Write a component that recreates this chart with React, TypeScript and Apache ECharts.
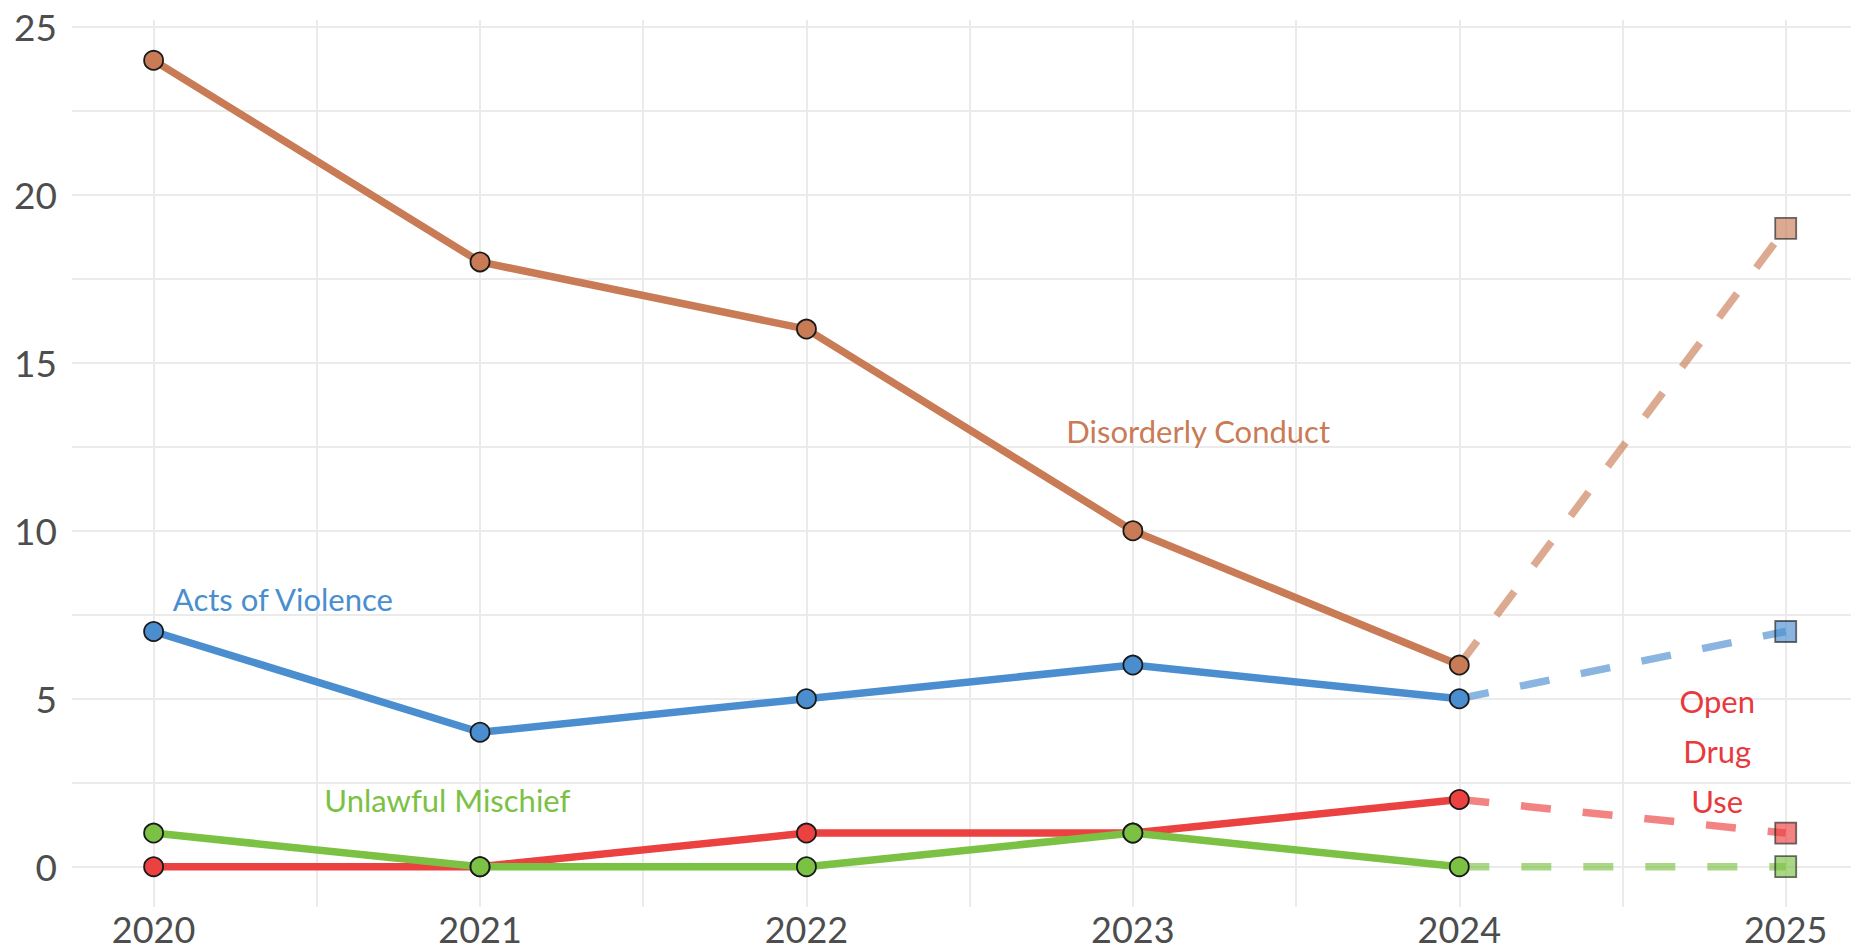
import React, { useEffect, useRef } from "react";
import * as echarts from "echarts";

const years = [2020, 2021, 2022, 2023, 2024];
const projYears = [2024, 2025];

const disorderly = [24, 18, 16, 10, 6];
const disorderlyProj = [6, 19];
const violence = [7, 4, 5, 6, 5];
const violenceProj = [5, 7];
const drugUse = [0, 0, 1, 1, 2];
const drugUseProj = [2, 1];
const mischief = [1, 0, 0, 1, 0];
const mischiefProj = [0, 0];

const xTickLabels = [2020, 2021, 2022, 2023, 2024, 2025];
const yTickLabels = [0, 5, 10, 15, 20, 25];
const xGridValues = [2020, 2020.5, 2021, 2021.5, 2022, 2022.5, 2023, 2023.5, 2024, 2024.5, 2025];
const yGridValues = [0, 2.5, 5, 7.5, 10, 12.5, 15, 17.5, 20, 22.5, 25];

const annotationTexts = ["Disorderly Conduct", "Acts of Violence", "Unlawful Mischief", "Open\nDrug\nUse"];
const annotationX = [2023.2, 2020.396, 2020.9, 2024.79];
const annotationY = [12.97, 7.96, 1.98, 3.44];

const categories = [
  { name: "Disorderly Conduct", color: "#C97B56", values: disorderly, proj: disorderlyProj },
  { name: "Acts of Violence", color: "#4A8ECF", values: violence, proj: violenceProj },
  { name: "Open Drug Use", color: "#EC4141", values: drugUse, proj: drugUseProj },
  { name: "Unlawful Mischief", color: "#7BC144", values: mischief, proj: mischiefProj },
];
const annotationColors = ["#C97B56", "#4A8ECF", "#7BC144", "#E8393D"];

const FONT = "Lato, 'Open Sans', sans-serif";

export default function App() {
  const ref = useRef<HTMLDivElement>(null);
  useEffect(() => {
    if (!ref.current) return;
    const chart = echarts.init(ref.current, undefined, { renderer: "svg" });
    const series: any[] = [];
    series.push({
      type: "line",
      data: [[2020, 0]],
      showSymbol: false,
      lineStyle: { opacity: 0 },
      z: 0,
      silent: true,
      markLine: {
        silent: true,
        z: 0,
        symbol: ["none", "none"],
        label: { show: false },
        lineStyle: { color: "#EBEBEB", width: 2, type: "solid" },
        data: [
          ...xGridValues.map((v) => ({ xAxis: v })),
          ...yGridValues.map((v) => ({ yAxis: v })),
        ],
      },
    });
    categories.forEach((c) => {
      series.push({
        type: "line",
        name: c.name,
        data: years.map((y, i) => [y, c.values[i]]),
        showSymbol: false,
        lineStyle: { color: c.color, width: 7.5, cap: "round", join: "round" },
        z: 2,
      });
      series.push({
        type: "line",
        name: c.name + " proj",
        data: projYears.map((y, i) => [y, c.proj[i]]),
        showSymbol: false,
        lineStyle: { color: c.color, width: 7.5, type: [30, 32], cap: "butt", opacity: 0.65 },
        z: 2,
      });
    });
    categories.forEach((c) => {
      series.push({
        type: "scatter",
        data: years.map((y, i) => [y, c.values[i]]),
        symbol: "circle",
        symbolSize: 19,
        itemStyle: { color: c.color, borderColor: "#1A1A1A", borderWidth: 1.8, opacity: 1 },
        z: 3,
      });
      series.push({
        type: "scatter",
        data: [[projYears[1], c.proj[1]]],
        symbol: "rect",
        symbolSize: 21,
        itemStyle: { color: c.color, borderColor: "#222222", borderWidth: 1.8, opacity: 0.65 },
        z: 3,
      });
    });
    series.push({
      type: "scatter",
      symbol: "circle",
      symbolSize: 0,
      z: 4,
      silent: true,
      itemStyle: { opacity: 1 },
      data: annotationTexts.map((t, i) => ({
        value: [annotationX[i], annotationY[i]],
        label: {
          show: true,
          position: "inside",
          formatter: t,
          color: annotationColors[i],
          fontSize: 31,
          lineHeight: 50,
          fontFamily: FONT,
          align: "center",
          verticalAlign: "middle",
        },
      })),
    });

    chart.setOption({
      animation: false,
      backgroundColor: "#FFFFFF",
      grid: { left: 72, right: 0, top: 20, bottom: 44, containLabel: false },
      xAxis: {
        type: "value",
        min: 2019.75,
        max: 2025.2,
        splitLine: { show: false },
        axisLine: { show: false },
        axisTick: { show: false },
        axisLabel: {
          customValues: xTickLabels,
          formatter: (v: number) => String(Math.round(v)),
          fontSize: 36,
          lineHeight: 36,
          color: "#4D4D4D",
          fontFamily: FONT,
          margin: 4,
        },
      },
      yAxis: {
        type: "value",
        min: -1.2,
        max: 25.2,
        splitLine: { show: false },
        axisLine: { show: false },
        axisTick: { show: false },
        axisLabel: {
          customValues: yTickLabels,
          formatter: (v: number) => String(Math.round(v)),
          fontSize: 37,
          color: "#4D4D4D",
          fontFamily: FONT,
          margin: 15,
        },
      },
      series,
    });
    return () => chart.dispose();
  }, []);
  return (
    <div
      ref={ref}
      style={{ position: "absolute", left: 0, top: 0, width: 1851, height: 951, background: "#fff" }}
    />
  );
}
